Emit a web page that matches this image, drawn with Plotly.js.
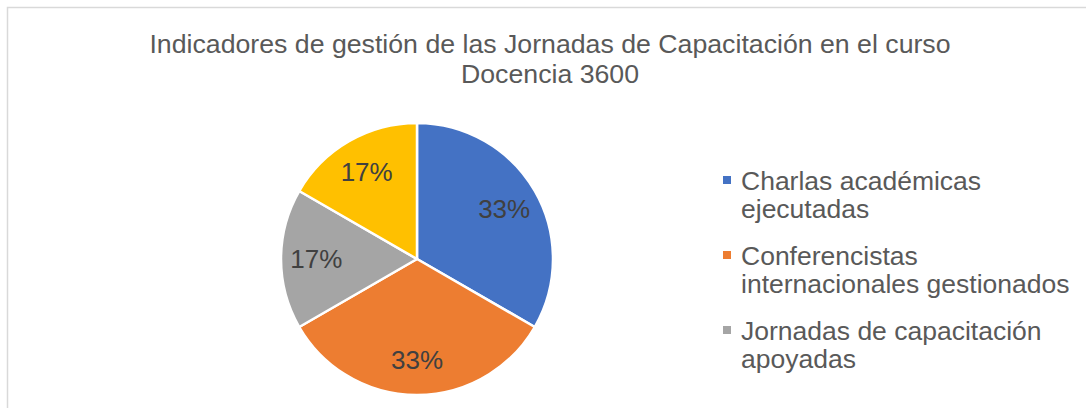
<!DOCTYPE html>
<html><head><meta charset="utf-8">
<script src="https://cdn.plot.ly/plotly-3.0.1.min.js"></script>
<style>html,body{margin:0;padding:0;background:#fff}#chart{width:1086px;height:408px}</style>
</head><body><div id="chart"></div>
<script>
const titleLines = ["Indicadores de gestión de las Jornadas de Capacitación en el curso", "Docencia 3600"];
const categories = ["Charlas académicas ejecutadas", "Conferencistas internacionales gestionados", "Jornadas de capacitación apoyadas", "Otros"];
const legendLines = [["Charlas académicas", "ejecutadas"], ["Conferencistas", "internacionales gestionados"], ["Jornadas de capacitación", "apoyadas"]];
const values = [2, 2, 1, 1];
const colors = ["#4472C4", "#ED7D31", "#A5A5A5", "#FFC000"];

const W = 1086, H = 408;
const FONT = "Liberation Sans, Arial, sans-serif";
const px = v => v / W, py = v => 1 - v / H;

const cx = 417, cy = 259, r = 136;
const domain = {x: [px(cx - r), px(cx + r)], y: [py(cy + r), py(cy - r)]};

// Slices (no text)
const slices = {
  type: "pie",
  labels: categories,
  values: values,
  sort: false,
  direction: "clockwise",
  rotation: 0,
  marker: {colors: colors, line: {color: "#ffffff", width: 2.5}},
  textinfo: "none",
  domain: domain,
  showlegend: false,
  hoverinfo: "label+percent"
};
// Same data, transparent ring, carries the percentage labels
const labelsRing = {
  type: "pie",
  labels: categories,
  values: values,
  sort: false,
  direction: "clockwise",
  rotation: 0,
  hole: 0.48,
  marker: {colors: colors.map(() => "rgba(0,0,0,0)"), line: {width: 0}},
  texttemplate: "%{percent:.0%}",
  textposition: "inside",
  insidetextorientation: "horizontal",
  textfont: {family: FONT, size: 26, color: "#404040"},
  domain: domain,
  showlegend: false,
  hoverinfo: "skip"
};

const shapes = [{
  type: "rect", xref: "paper", yref: "paper",
  x0: px(7.5), x1: px(W + 20), y0: py(H + 20), y1: py(7.5),
  line: {color: "#D9D9D9", width: 1.5}, fillcolor: "rgba(0,0,0,0)", layer: "below"
}];
const annotations = [{
  text: titleLines[1], xref: "paper", yref: "paper", x: px(550), y: py(74),
  xanchor: "center", yanchor: "middle", showarrow: false,
  font: {family: FONT, size: 26.7, color: "#595959"}
}];
legendLines.forEach((lines, i) => {
  const top = 180 + i * 75;
  shapes.push({
    type: "rect", xref: "paper", yref: "paper",
    x0: px(723), x1: px(731), y0: py(top + 4), y1: py(top - 4),
    fillcolor: colors[i], line: {width: 0}
  });
  lines.forEach((t, j) => {
    annotations.push({
      text: t, xref: "paper", yref: "paper", x: px(739), y: py(top + 1 + j * 28),
      xanchor: "left", yanchor: "middle", showarrow: false,
      font: {family: FONT, size: 26.5, color: "#595959"}
    });
  });
});

const layout = {
  width: W, height: H,
  margin: {l: 0, r: 0, t: 0, b: 0},
  paper_bgcolor: "#ffffff",
  title: {
    text: titleLines[0],
    font: {family: FONT, size: 26.7, color: "#595959"},
    x: px(550), xref: "container", xanchor: "center",
    y: 1 - 44 / H, yref: "container", yanchor: "middle"
  },
  shapes: shapes,
  annotations: annotations
};

Plotly.newPlot("chart", [slices, labelsRing], layout, {displayModeBar: false, staticPlot: true});
</script>
</body></html>
